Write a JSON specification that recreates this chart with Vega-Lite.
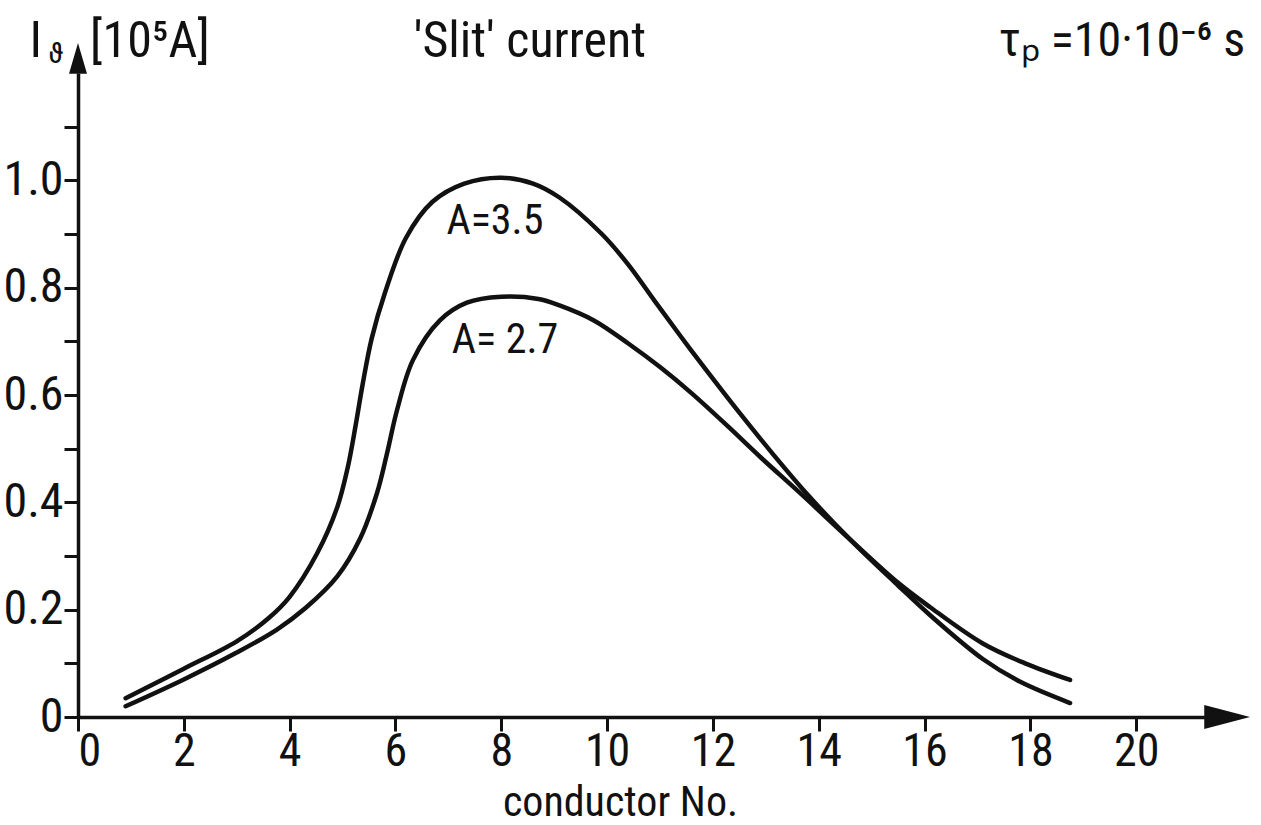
{
  "$schema": "https://vega.github.io/schema/vega-lite/v6.json",
  "autosize": {"type": "none"},
  "padding": {"left": 78, "top": 73, "right": 56, "bottom": 108},
  "width": 1127,
  "height": 644,
  "background": "white",
  "config": {
    "view": {"stroke": null},
    "font": "Roboto Condensed, Liberation Sans Narrow, Roboto",
    "axis": {
      "grid": false,
      "domainColor": "#111",
      "domainWidth": 3.5,
      "tickColor": "#111",
      "tickWidth": 3,
      "tickSize": 14,
      "labelColor": "#111",
      "labelFont": "Roboto Condensed, Liberation Sans Narrow, Roboto",
      "labelFontSize": 48,
      "titleFont": "Roboto Condensed, Liberation Sans Narrow, Roboto",
      "titleColor": "#111",
      "titleFontWeight": "normal"
    },
    "text": {"font": "Roboto Condensed, Liberation Sans Narrow, Roboto", "color": "#111"}
  },
  "datasets": {
    "curves": [
      {"series": "A=3.5", "n": 0.9, "I": 0.035},
      {"series": "A=3.5", "n": 2.0, "I": 0.09},
      {"series": "A=3.5", "n": 3.0, "I": 0.141},
      {"series": "A=3.5", "n": 3.6, "I": 0.184},
      {"series": "A=3.5", "n": 4.0, "I": 0.224},
      {"series": "A=3.5", "n": 4.52, "I": 0.305},
      {"series": "A=3.5", "n": 4.9, "I": 0.391},
      {"series": "A=3.5", "n": 5.1, "I": 0.466},
      {"series": "A=3.5", "n": 5.25, "I": 0.545},
      {"series": "A=3.5", "n": 5.38, "I": 0.62},
      {"series": "A=3.5", "n": 5.55, "I": 0.705},
      {"series": "A=3.5", "n": 5.8, "I": 0.79},
      {"series": "A=3.5", "n": 6.2, "I": 0.893},
      {"series": "A=3.5", "n": 6.7, "I": 0.96},
      {"series": "A=3.5", "n": 7.3, "I": 0.994},
      {"series": "A=3.5", "n": 8.0, "I": 1.005},
      {"series": "A=3.5", "n": 8.6, "I": 0.994},
      {"series": "A=3.5", "n": 9.1, "I": 0.968},
      {"series": "A=3.5", "n": 9.9, "I": 0.9},
      {"series": "A=3.5", "n": 10.4, "I": 0.843},
      {"series": "A=3.5", "n": 10.9, "I": 0.775},
      {"series": "A=3.5", "n": 11.4, "I": 0.708},
      {"series": "A=3.5", "n": 11.9, "I": 0.643},
      {"series": "A=3.5", "n": 12.5, "I": 0.567},
      {"series": "A=3.5", "n": 13.15, "I": 0.488},
      {"series": "A=3.5", "n": 13.8, "I": 0.413},
      {"series": "A=3.5", "n": 14.6, "I": 0.33},
      {"series": "A=3.5", "n": 15.5, "I": 0.245},
      {"series": "A=3.5", "n": 16.1, "I": 0.19},
      {"series": "A=3.5", "n": 17.1, "I": 0.108},
      {"series": "A=3.5", "n": 17.8, "I": 0.066},
      {"series": "A=3.5", "n": 18.75, "I": 0.026},
      {"series": "A=2.7", "n": 0.9, "I": 0.02},
      {"series": "A=2.7", "n": 2.0, "I": 0.07},
      {"series": "A=2.7", "n": 3.0, "I": 0.12},
      {"series": "A=2.7", "n": 3.76, "I": 0.163},
      {"series": "A=2.7", "n": 4.3, "I": 0.203},
      {"series": "A=2.7", "n": 4.9, "I": 0.262},
      {"series": "A=2.7", "n": 5.33, "I": 0.332},
      {"series": "A=2.7", "n": 5.65, "I": 0.417},
      {"series": "A=2.7", "n": 5.84, "I": 0.491},
      {"series": "A=2.7", "n": 6.03, "I": 0.572},
      {"series": "A=2.7", "n": 6.33, "I": 0.665},
      {"series": "A=2.7", "n": 6.84, "I": 0.739},
      {"series": "A=2.7", "n": 7.35, "I": 0.772},
      {"series": "A=2.7", "n": 8.0, "I": 0.783},
      {"series": "A=2.7", "n": 8.7, "I": 0.779},
      {"series": "A=2.7", "n": 9.1, "I": 0.767},
      {"series": "A=2.7", "n": 9.75, "I": 0.739},
      {"series": "A=2.7", "n": 10.4, "I": 0.696},
      {"series": "A=2.7", "n": 11.0, "I": 0.652},
      {"series": "A=2.7", "n": 11.6, "I": 0.603},
      {"series": "A=2.7", "n": 12.3, "I": 0.54},
      {"series": "A=2.7", "n": 12.9, "I": 0.484},
      {"series": "A=2.7", "n": 13.65, "I": 0.417},
      {"series": "A=2.7", "n": 14.6, "I": 0.33},
      {"series": "A=2.7", "n": 15.5, "I": 0.25},
      {"series": "A=2.7", "n": 16.1, "I": 0.205},
      {"series": "A=2.7", "n": 17.1, "I": 0.137},
      {"series": "A=2.7", "n": 17.9, "I": 0.1},
      {"series": "A=2.7", "n": 18.75, "I": 0.069}
    ],
    "labels": [
      {"kind": "curve", "text": "A=3.5", "n": 7.88, "I": 0.925},
      {"kind": "curve", "text": "A= 2.7", "n": 8.07, "I": 0.702},
      {"kind": "head", "text": "I", "n": -0.8, "I": 1.257},
      {"kind": "head", "text": "[10⁵A]", "n": 1.36, "I": 1.257},
      {"kind": "head", "text": "'Slit' current", "n": 8.54, "I": 1.257},
      {"kind": "headR", "text": "τₚ =10·10⁻⁶ s", "n": 22.06, "I": 1.257},
      {"kind": "sub", "text": "ϑ", "n": -0.42, "I": 1.235}
    ],
    "arrows": [
      {"dir": "up", "n": 0, "I": 1.2},
      {"dir": "right", "n": 21.3, "I": 0}
    ]
  },
  "encoding": {
    "x": {
      "field": "n", "type": "quantitative",
      "scale": {"domain": [0, 21.3], "nice": false, "zero": false},
      "axis": {
        "values": [0, 2, 4, 6, 8, 10, 12, 14, 16, 18, 20],
        "format": "d",
        "labelFontSize": 46,
        "labelPadding": -2,
        "title": "conductor  No.",
        "titleFontSize": 42,
        "titleBaseline": "alphabetic",
        "titleY": 98,
        "titleX": 542
      }
    },
    "y": {
      "field": "I", "type": "quantitative",
      "scale": {"domain": [0, 1.2], "nice": false, "zero": false},
      "axis": {
        "values": [0, 0.1, 0.2, 0.3, 0.4, 0.5, 0.6, 0.7, 0.8, 0.9, 1.0, 1.1],
        "labelExpr": "round(datum.value*10) % 2 == 0 ? (datum.value == 0 ? '0' : format(datum.value, '.1f')) : ''",
        "labelPadding": 1,
        "title": null
      }
    }
  },
  "layer": [
    {
      "data": {"name": "curves"},
      "mark": {"type": "line", "interpolate": "catmull-rom", "stroke": "#111", "strokeWidth": 4.5, "strokeCap": "round"},
      "encoding": {"detail": {"field": "series"}}
    },
    {
      "data": {"name": "labels"},
      "transform": [{"filter": "datum.kind == 'curve'"}],
      "mark": {"type": "text", "fontSize": 42, "align": "center", "baseline": "middle"},
      "encoding": {"text": {"field": "text"}}
    },
    {
      "data": {"name": "labels"},
      "transform": [{"filter": "datum.kind == 'head'"}],
      "mark": {"type": "text", "fontSize": 50, "align": "center", "baseline": "middle"},
      "encoding": {"text": {"field": "text"}}
    },
    {
      "data": {"name": "labels"},
      "transform": [{"filter": "datum.kind == 'headR'"}],
      "mark": {"type": "text", "fontSize": 48, "align": "right", "baseline": "middle"},
      "encoding": {"text": {"field": "text"}}
    },
    {
      "data": {"name": "labels"},
      "transform": [{"filter": "datum.kind == 'sub'"}],
      "mark": {"type": "text", "fontSize": 30, "align": "center", "baseline": "middle"},
      "encoding": {"text": {"field": "text"}}
    },
    {
      "data": {"name": "arrows"},
      "transform": [{"filter": "datum.dir == 'up'"}],
      "mark": {"type": "point", "filled": true, "color": "#111", "opacity": 1, "size": 900, "shape": "M0,-2 L0.6,0.05 L-0.6,0.05 Z"}
    },
    {
      "data": {"name": "arrows"},
      "transform": [{"filter": "datum.dir == 'right'"}],
      "mark": {"type": "point", "filled": true, "color": "#111", "opacity": 1, "size": 900, "shape": "M-0.05,-0.8 L3,0 L-0.05,0.8 Z"}
    }
  ]
}
